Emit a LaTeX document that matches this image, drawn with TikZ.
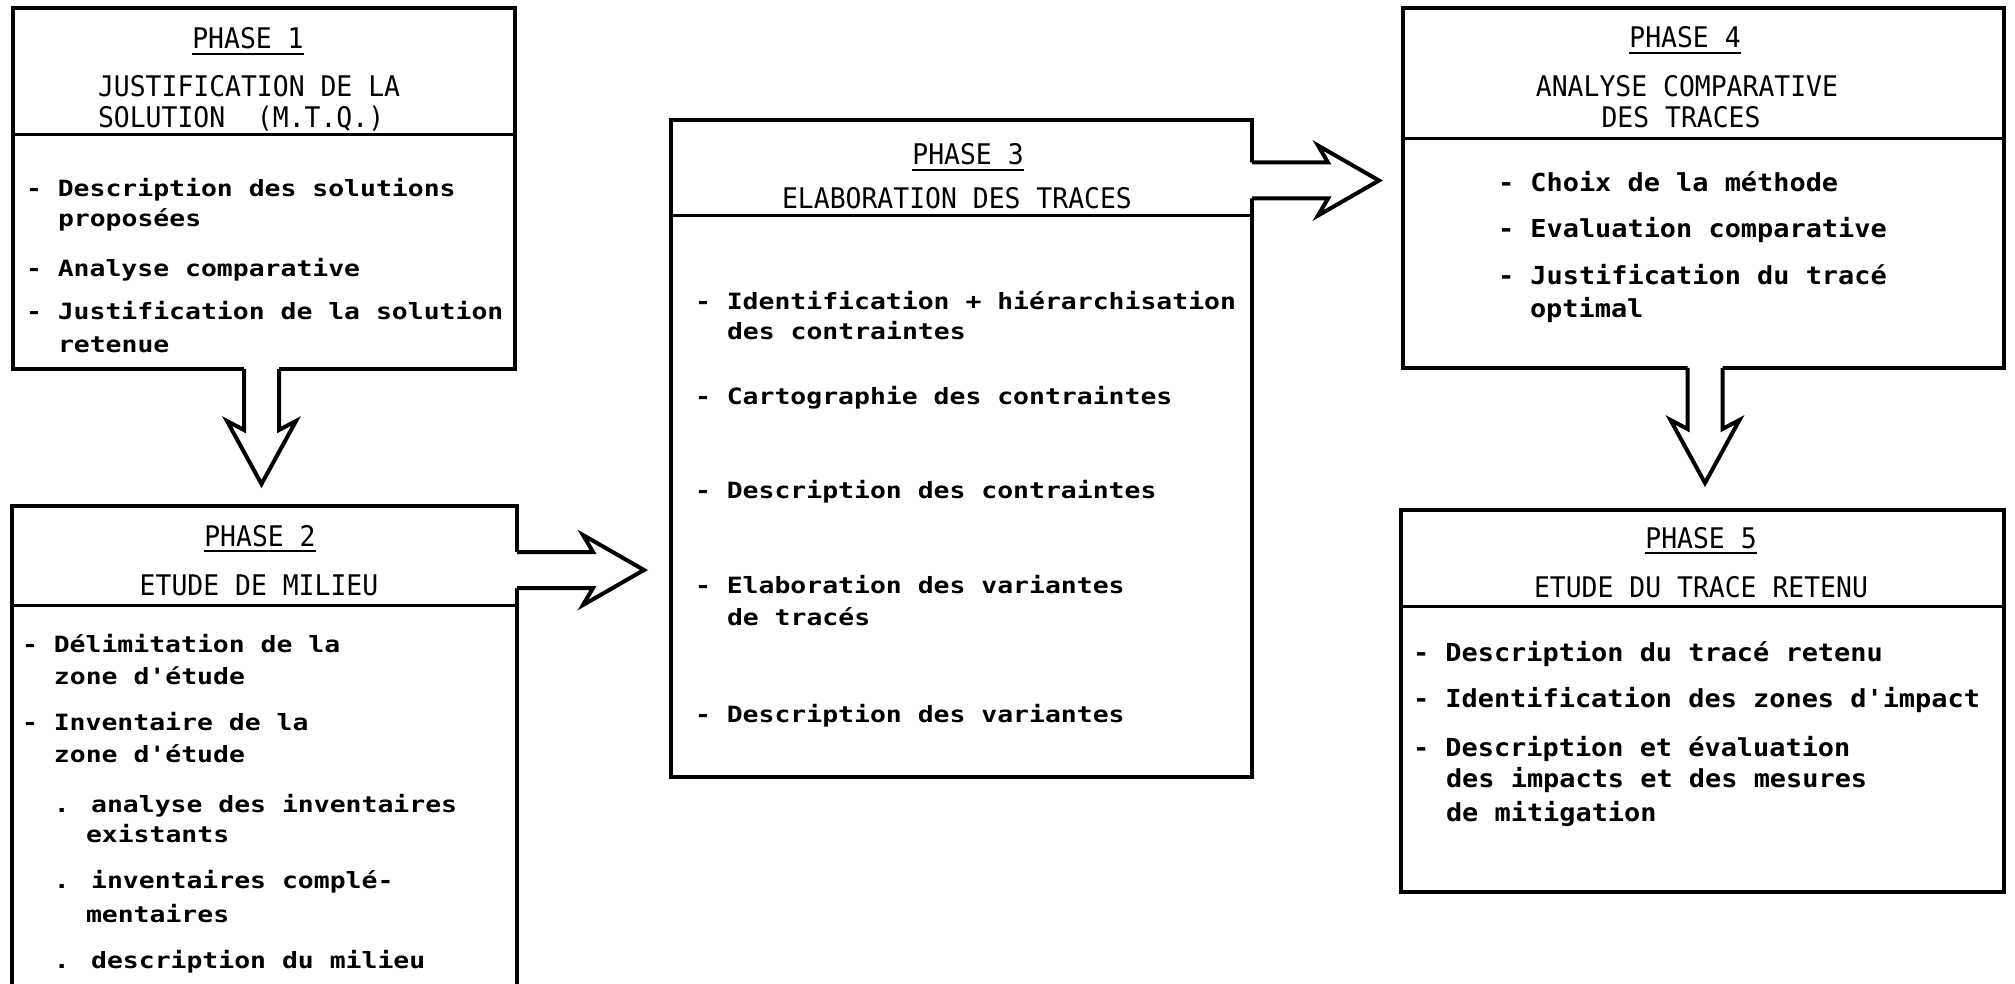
\documentclass[tikz,border=0pt]{standalone}
\usepackage{fontspec}
\newfontfamily\hdfont[FakeStretch=0.93]{DejaVu Sans Mono}
\newfontfamily\bdfontA[FakeStretch=1.18]{DejaVu Sans Mono}
\newfontfamily\bdfontB[FakeStretch=1.085]{DejaVu Sans Mono}
\usetikzlibrary{calc}
\tikzset{
  box/.style={draw, line width=2pt, inner sep=0pt, outer sep=0pt, anchor=north west},
  divider/.style={line width=1.5pt},
  hd/.style={inner sep=0pt, outer sep=0pt, font=\hdfont\fontsize{14.2pt}{16pt}\selectfont},
  bd/.style={inner sep=0pt, outer sep=0pt, anchor=base west, font=\bdfontA\bfseries\fontsize{11.2pt}{13pt}\selectfont},
  bdB/.style={inner sep=0pt, outer sep=0pt, anchor=base west, font=\bdfontB\bfseries\fontsize{12.4pt}{14pt}\selectfont},
  uline/.style={line width=1.3pt},
  barrow/.style={line width=2pt, line join=miter},
  pics/darrow/.style={code={
    \fill[white] (-17.5,-3) -- (-17.5,61) -- (-34.5,52) -- (0,115) -- (34.5,52) -- (17.5,61) -- (17.5,-3) -- cycle;
    \draw[barrow] (-17.5,0) -- (-17.5,61) -- (-34.5,52) -- (0,115) -- (34.5,52) -- (17.5,61) -- (17.5,0);
  }},
  pics/rarrow/.style={code={
    \fill[white] (-3,-18) -- (76,-18) -- (66,-35) -- (127,0) -- (66,35) -- (76,18) -- (-3,18) -- cycle;
    \draw[barrow] (0,-18) -- (76,-18) -- (66,-35) -- (127,0) -- (66,35) -- (76,18) -- (0,18);
  }}
}
\begin{document}
\begin{tikzpicture}[x=0.5pt,y=-0.5pt]
\useasboundingbox (0,0) rectangle (2015,984);
\fill[white] (0,0) rectangle (2015,984);

% boxes
\node[box, minimum width=251pt, minimum height=180.5pt] (b1) at (13,8) {};
\node[box, minimum width=252.5pt, minimum height=247pt] (b2) at (12,506) {};
\node[box, minimum width=290.5pt, minimum height=328.5pt] (b3) at (671,120) {};
\node[box, minimum width=300.5pt, minimum height=180pt] (b4) at (1403,8) {};
\node[box, minimum width=301.5pt, minimum height=191pt] (b5) at (1401,510) {};

% header dividers
\draw[divider] (13,135) -- (515,135);
\draw[divider] (12,605) -- (517,605);
\draw[divider] (671,216) -- (1252,216);
\draw[divider] (1403,139) -- (2004,139);
\draw[divider] (1401,606) -- (2004,606);

% block arrows
\pic at ($(b1.south)+(-2.5,0)$) {darrow};
\pic at ($(b4.south)+(1.5,0)$) {darrow};
\pic at ($(b2.north east)+(0,64)$) {rarrow};
\pic at ($(b3.north east)+(0,60.5)$) {rarrow};

% ---- box 1
\node[hd, anchor=base] (ph1) at (248,49) {PHASE 1};
\draw[uline] ([yshift=-2.5pt]ph1.base west) -- ([yshift=-2.5pt]ph1.base east);
\node[hd, anchor=base west] (t1a) at (98,97) {JUSTIFICATION DE LA};
\node[hd, anchor=base west] (t1b) at (98,128) {SOLUTION~~(M.T.Q.)};
\node[bd] (i1a) at (26,197) {- Description des solutions};
\node[bd] (i1b) at (58,227) {proposées};
\node[bd] (i1c) at (26,277) {- Analyse comparative};
\node[bd] (i1d) at (26,320) {- Justification de la solution};
\node[bd] (i1e) at (58,353) {retenue};

% ---- box 2
\node[hd, anchor=base] (ph2) at (260,546) {PHASE 2};
\draw[uline] ([yshift=-2.5pt]ph2.base west) -- ([yshift=-2.5pt]ph2.base east);
\node[hd, anchor=base] (t2a) at (259,595) {ETUDE DE MILIEU};
\node[bd] (i2a) at (22,652) {- Délimitation de la};
\node[bd] (i2b) at (54,684) {zone d'étude};
\node[bd] (i2c) at (22,730) {- Inventaire de la};
\node[bd] (i2d) at (54,762) {zone d'étude};
\node[bd] (i2e) at (54,812) {. analyse des inventaires};
\node[bd] (i2f) at (86,842) {existants};
\node[bd] (i2g) at (54,888) {. inventaires complé-};
\node[bd] (i2h) at (86,922) {mentaires};
\node[bd] (i2i) at (54,968) {. description du milieu};

% ---- box 3
\node[hd, anchor=base] (ph3) at (968,165) {PHASE 3};
\draw[uline] ([yshift=-2.5pt]ph3.base west) -- ([yshift=-2.5pt]ph3.base east);
\node[hd, anchor=base] (t3a) at (957,209) {ELABORATION DES TRACES};
\node[bd] (i3a) at (695,310) {- Identification + hiérarchisation};
\node[bd] (i3b) at (727,340) {des contraintes};
\node[bd] (i3c) at (695,405) {- Cartographie des contraintes};
\node[bd] (i3d) at (695,498) {- Description des contraintes};
\node[bd] (i3e) at (695,593) {- Elaboration des variantes};
\node[bd] (i3f) at (727,625) {de tracés};
\node[bd] (i3g) at (695,722) {- Description des variantes};

% ---- box 4
\node[hd, anchor=base] (ph4) at (1685,48) {PHASE 4};
\draw[uline] ([yshift=-2.5pt]ph4.base west) -- ([yshift=-2.5pt]ph4.base east);
\node[hd, anchor=base] (t4a) at (1687,97) {ANALYSE COMPARATIVE};
\node[hd, anchor=base] (t4b) at (1681,128) {DES TRACES};
\node[bdB] (i4a) at (1498,192) {- Choix de la méthode};
\node[bdB] (i4b) at (1498,238) {- Evaluation comparative};
\node[bdB] (i4c) at (1498,285) {- Justification du tracé};
\node[bdB] (i4d) at (1530,318) {optimal};

% ---- box 5
\node[hd, anchor=base] (ph5) at (1701,548) {PHASE 5};
\draw[uline] ([yshift=-2.5pt]ph5.base west) -- ([yshift=-2.5pt]ph5.base east);
\node[hd, anchor=base] (t5a) at (1701,597) {ETUDE DU TRACE RETENU};
\node[bdB] (i5a) at (1413,661) {- Description du tracé retenu};
\node[bdB] (i5b) at (1413,707) {- Identification des zones d'impact};
\node[bdB] (i5c) at (1413,756) {- Description et évaluation};
\node[bdB] (i5d) at (1446,787) {des impacts et des mesures};
\node[bdB] (i5e) at (1446,821) {de mitigation};
\end{tikzpicture}
\end{document}
